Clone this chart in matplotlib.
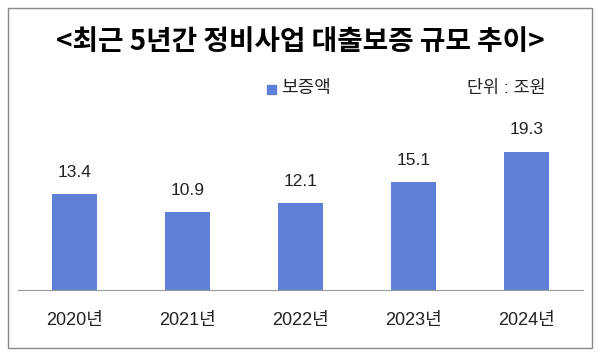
import matplotlib.pyplot as plt
from matplotlib.patches import Rectangle

plt.rcParams['font.family'] = ['Liberation Sans', 'Noto Sans CJK KR', 'DejaVu Sans']

years = ['2020년', '2021년', '2022년', '2023년', '2024년']
values = [13.4, 10.9, 12.1, 15.1, 19.3]
bar_color = '#5e80d6'

fig = plt.figure(figsize=(6, 3.56), dpi=100)
fig.patches.append(Rectangle((8 / 600, 8 / 356), 584 / 600, 340 / 356,
                             transform=fig.transFigure, fill=False,
                             edgecolor='#888888', linewidth=1.0))

ax = fig.add_axes([18 / 600, 66 / 356, 565 / 600, 180 / 356])
x = range(len(years))
bars = ax.bar(x, values, width=0.4, color=bar_color)
ax.set_xlim(-0.5, len(years) - 0.5)
ax.set_ylim(0, 180 / 7.16)
for xi, v in zip(x, values):
    ax.text(xi, v + 2.0, f'{v:.1f}', ha='center', va='bottom', fontsize=12.5, color='#222222')

ax.set_xticks(list(x))
ax.set_xticklabels(years, fontsize=13, color='#222222')
ax.tick_params(axis='x', length=0, pad=16)
ax.set_yticks([])
for s in ['top', 'right', 'left']:
    ax.spines[s].set_visible(False)
ax.spines['bottom'].set_color('#999999')

fig.text(0.5, 1 - 42 / 356, '<최근 5년간 정비사업 대출보증 규모 추이>', ha='center', va='center',
         fontsize=20, fontweight='black', color='black',
         family=['Noto Sans CJK KR', 'DejaVu Sans'])

fig.patches.append(Rectangle((267 / 600, 1 - 94 / 356), 9 / 600, 9 / 356,
                             transform=fig.transFigure, color=bar_color))
fig.text(281 / 600, 1 - 89 / 356, '보증액', ha='left', va='center', fontsize=13, color='#222222')
fig.text(546 / 600, 1 - 88 / 356, '단위 : 조원', ha='right', va='center', fontsize=12.5, color='#222222')

fig.savefig('out.png', dpi=100)
